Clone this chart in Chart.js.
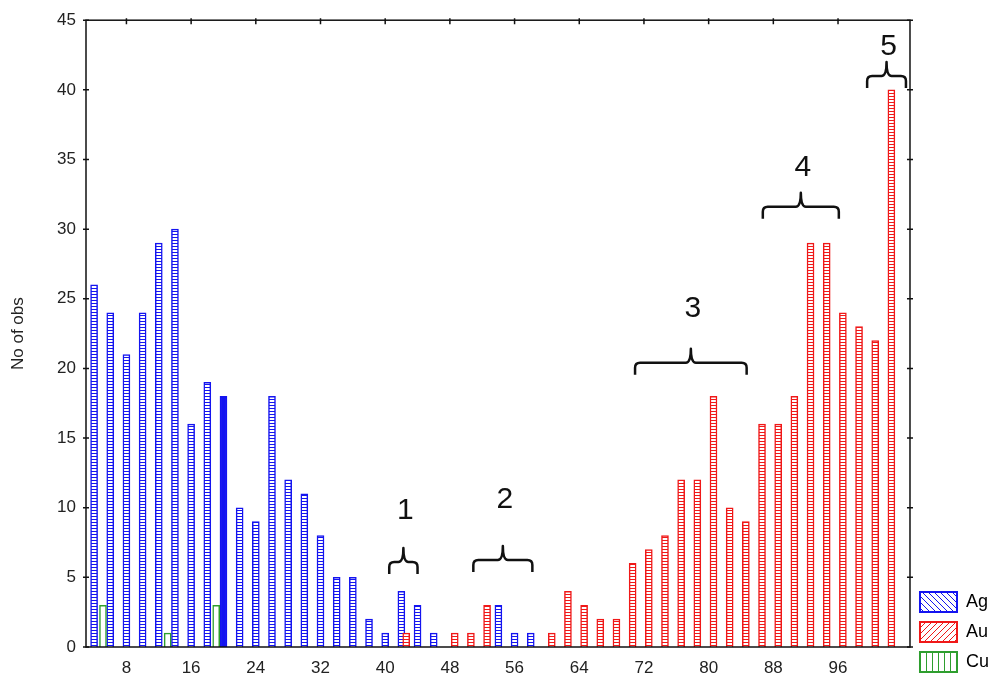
<!DOCTYPE html>
<html>
<head>
<meta charset="utf-8">
<script src="https://cdn.jsdelivr.net/npm/chart.js@4/dist/chart.umd.min.js"></script>
<style>
html, body { margin: 0; padding: 0; background: #fff; }
#wrap { width: 999px; height: 682px; }
</style>
</head>
<body>
<div id="wrap"><canvas id="chartObs"></canvas></div>
<script>
// Ag
var agX = [4, 6, 8, 10, 12, 14, 16, 18, 20, 22, 24, 26, 28, 30, 32, 34, 36, 38, 40, 42, 44, 46, 54, 56, 58];
var agObs = [26, 24, 21, 24, 29, 30, 16, 19, 18, 10, 9, 18, 12, 11, 8, 5, 5, 2, 1, 4, 3, 1, 3, 1, 1];
// Au
var auX = [42.6, 48.6, 50.6, 52.6, 60.6, 62.6, 64.6, 66.6, 68.6, 70.6, 72.6, 74.6, 76.6, 78.6, 80.6, 82.6, 84.6, 86.6, 88.6, 90.6, 92.6, 94.6, 96.6, 98.6, 100.6, 102.6];
var auObs = [1, 1, 1, 3, 1, 4, 3, 2, 2, 6, 7, 8, 12, 12, 18, 10, 9, 16, 16, 18, 29, 29, 24, 23, 22, 40];
// Cu
var cuX = [5.1, 13.1, 19.1];
var cuObs = [3, 1, 3];

var xTicks = [8, 16, 24, 32, 40, 48, 56, 64, 72, 80, 88, 96];
var yTicks = [0, 5, 10, 15, 20, 25, 30, 35, 40, 45];

// groups marked with braces (x range, brace level, number level, in axis units)
var groupNames = ['1', '2', '3', '4', '5'];
var groupFrom = [40.5, 50.9, 70.9, 86.7, 99.6];
var groupTo = [44.0, 58.2, 84.7, 96.1, 104.4];
var groupLevel = [6.1, 6.25, 20.4, 31.6, 41.0];
var groupTextLevel = [9.8, 10.6, 24.3, 34.4, 43.1];

var BLUE = '#1414f0';
var RED = '#f01818';
var GREEN = '#2e9e2e';

function ladder(color) {
    var c = document.createElement('canvas');
    c.width = 4; c.height = 3;
    var g = c.getContext('2d');
    g.fillStyle = '#fff';
    g.fillRect(0, 0, 4, 3);
    g.fillStyle = color;
    g.fillRect(0, 0, 4, 1);
    return g.createPattern(c, 'repeat');
}

function hatch(color, kind) {
    var c = document.createElement('canvas');
    c.width = 6; c.height = 6;
    var g = c.getContext('2d');
    g.fillStyle = '#fff';
    g.fillRect(0, 0, 6, 6);
    g.strokeStyle = color;
    g.lineWidth = 1;
    g.beginPath();
    if (kind === 'v') {
        g.moveTo(2.5, 0); g.lineTo(2.5, 6);
    } else if (kind === 'b') {
        g.moveTo(0, 0); g.lineTo(6, 6);
        g.moveTo(-3, 3); g.lineTo(3, 9);
        g.moveTo(3, -3); g.lineTo(9, 3);
    } else {
        g.moveTo(0, 6); g.lineTo(6, 0);
        g.moveTo(-3, 3); g.lineTo(3, -3);
        g.moveTo(3, 9); g.lineTo(9, 3);
    }
    g.stroke();
    return g.createPattern(c, 'repeat');
}

function pts(xs, ys) {
    return xs.map(function(x, i) { return { x: x, y: ys[i] }; });
}

var legendFill = [hatch(BLUE, 'b'), hatch(RED, 'f'), hatch(GREEN, 'v')];
var agLadder = ladder(BLUE);
var auLadder = ladder(RED);

// frame, inner ticks and the braces
var extras = {
    id: 'extras',
    afterDatasetsDraw: function(chart) {
        var ctx = chart.ctx;
        var a = chart.chartArea;
        var xs = chart.scales.x, ys = chart.scales.y;
        ctx.save();
        ctx.strokeStyle = '#111';
        ctx.lineWidth = 1.5;
        ctx.strokeRect(a.left, a.top, a.right - a.left, a.bottom - a.top);
        ctx.beginPath();
        yTicks.forEach(function(v) {
            var py = ys.getPixelForValue(v);
            ctx.moveTo(a.left - 3, py); ctx.lineTo(a.left + 3, py);
            ctx.moveTo(a.right - 3, py); ctx.lineTo(a.right + 3, py);
        });
        xTicks.forEach(function(v) {
            var px = xs.getPixelForValue(v);
            ctx.moveTo(px, a.top - 2); ctx.lineTo(px, a.top + 4);
        });
        ctx.stroke();

        ctx.lineWidth = 2.5;
        ctx.lineJoin = 'round';
        ctx.fillStyle = '#111';
        ctx.font = '30px "Liberation Sans", Arial, sans-serif';
        ctx.textAlign = 'center';
        ctx.textBaseline = 'middle';
        groupNames.forEach(function(name, i) {
            var x1 = xs.getPixelForValue(groupFrom[i]);
            var x2 = xs.getPixelForValue(groupTo[i]);
            var yh = ys.getPixelForValue(groupLevel[i]);
            var mid = (x1 + x2) / 2;
            var r = 5;
            ctx.beginPath();
            ctx.moveTo(x1, yh + 12);
            ctx.lineTo(x1, yh + r);
            ctx.quadraticCurveTo(x1, yh, x1 + r, yh);
            ctx.lineTo(mid - r, yh);
            ctx.quadraticCurveTo(mid, yh, mid, yh - 14);
            ctx.quadraticCurveTo(mid, yh, mid + r, yh);
            ctx.lineTo(x2 - r, yh);
            ctx.quadraticCurveTo(x2, yh, x2, yh + r);
            ctx.lineTo(x2, yh + 12);
            ctx.stroke();
            ctx.fillText(name, mid + 2, ys.getPixelForValue(groupTextLevel[i]));
        });
        ctx.restore();
    }
};

new Chart(document.getElementById('chartObs'), {
    type: 'bar',
    data: {
        datasets: [{
            label: 'Ag',
            data: pts(agX, agObs),
            backgroundColor: function(c) { return c.dataIndex === 8 ? BLUE : agLadder; },
            borderColor: BLUE,
            borderWidth: 1.5,
            barThickness: 7,
            grouped: false,
            order: 2
        }, {
            label: 'Au',
            data: pts(auX, auObs),
            backgroundColor: auLadder,
            borderColor: RED,
            borderWidth: 1.5,
            barThickness: 7,
            grouped: false,
            order: 1
        }, {
            label: 'Cu',
            data: pts(cuX, cuObs),
            backgroundColor: '#fff',
            borderColor: GREEN,
            borderWidth: 1.5,
            barThickness: 7,
            grouped: false,
            order: 0
        }]
    },
    options: {
        responsive: true,
        maintainAspectRatio: false,
        animation: false,
        layout: { padding: { top: 20, left: 0, right: 0, bottom: 0 } },
        plugins: {
            tooltip: { enabled: false },
            legend: {
                position: 'right',
                align: 'end',
                labels: {
                    boxWidth: 37,
                    boxHeight: 20,
                    padding: 10,
                    color: '#111',
                    font: { family: '"Liberation Sans", Arial, sans-serif', size: 18 },
                    generateLabels: function(chart) {
                        return chart.data.datasets.map(function(ds, i) {
                            return {
                                text: ds.label,
                                fillStyle: legendFill[i],
                                strokeStyle: ds.borderColor,
                                lineWidth: 2,
                                datasetIndex: i,
                                hidden: false
                            };
                        });
                    }
                }
            }
        },
        scales: {
            x: {
                type: 'linear',
                offset: false,
                min: 3,
                max: 104.9,
                afterBuildTicks: function(scale) {
                    scale.ticks = xTicks.map(function(v) { return { value: v }; });
                },
                afterFit: function(scale) { scale.height = 35; },
                grid: { display: false, drawTicks: false, offset: false },
                border: { display: false },
                ticks: {
                    padding: 11,
                    color: '#222',
                    maxRotation: 0,
                    autoSkip: false,
                    font: { family: '"Liberation Sans", Arial, sans-serif', size: 17 }
                }
            },
            y: {
                min: 0,
                max: 45,
                afterBuildTicks: function(scale) {
                    scale.ticks = yTicks.map(function(v) { return { value: v }; });
                },
                afterFit: function(scale) { scale.width = 86; },
                grid: { display: false, drawTicks: false },
                border: { display: false },
                title: {
                    display: true,
                    text: 'No of obs',
                    color: '#222',
                    padding: { top: 8, bottom: 4 },
                    font: { family: '"Liberation Sans", Arial, sans-serif', size: 17 }
                },
                ticks: {
                    padding: 10,
                    color: '#222',
                    font: { family: '"Liberation Sans", Arial, sans-serif', size: 17 }
                }
            }
        }
    },
    plugins: [extras]
});
</script>
</body>
</html>
